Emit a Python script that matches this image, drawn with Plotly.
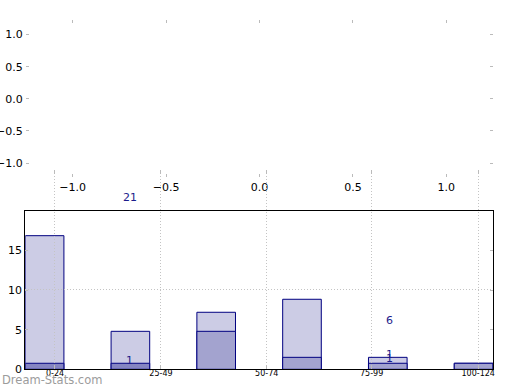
import plotly.graph_objects as go

# ---- data ----
categories = ["0-24", "25-49", "50-74", "75-99", "100-124"]
category_tick_pos = [0.346, 1.581, 2.814, 4.037, 5.279]
bar_left = [0, 1, 2, 3, 4, 5]
total_values = [16.85, 4.79, 7.19, 8.83, 1.51, 0.76]
dark_values = [0.76, 0.76, 4.79, 1.51, 0.76, 0.76]
label_text = ["21", "1", "6", "1", "1"]
label_x = [1.22, 1.21, 4.25, 4.24, 4.24]
label_y = [21.7, 1.17, 6.2, 1.85, 1.3]
top_ticks = [-1.0, -0.5, 0.0, 0.5, 1.0]
top_tick_text = ["\u22121.0", "\u22120.5", "0.0", "0.5", "1.0"]

BAR_W = 0.45
W, H = 520, 390
LIGHT = "#ccccE5"
DARK = "#a3a3cf"
DARKER = "#8585c2"
EDGE = "#000080"
TXT = "#1c1c8c"
TICKC = "#bbbbbb"
GRIDC = "#c4c4c4"
DASH = "1px,2px"


def ydom(top_px, bottom_px):
    return [1 - bottom_px / H, 1 - top_px / H]


def xdom(left_px, right_px):
    return [left_px / W, right_px / W]


bar_x = [b + BAR_W / 2 for b in bar_left]
dark_colors = [DARKER if i < 2 else DARK for i in range(len(dark_values))]

fig = go.Figure()

fig.add_trace(go.Scatter(x=[None], y=[None], xaxis="x", yaxis="y", showlegend=False))
fig.add_trace(go.Bar(x=bar_x, y=total_values, width=BAR_W,
                     marker=dict(color=LIGHT, line=dict(color=EDGE, width=1)),
                     xaxis="x2", yaxis="y2", showlegend=False))
fig.add_trace(go.Bar(x=bar_x, y=dark_values, width=BAR_W,
                     marker=dict(color=dark_colors, line=dict(color=EDGE, width=1)),
                     xaxis="x2", yaxis="y2", showlegend=False))
fig.add_trace(go.Scatter(x=[None], y=[None], xaxis="x3", yaxis="y3", showlegend=False))

# value labels: y3 shares the bar scale (same bottom, same px/unit) but reaches higher
annotations = [dict(text=t, x=x, y=y, xref="x3", yref="y3", showarrow=False,
                    font=dict(color=TXT, size=11, family="DejaVu Sans"))
               for t, x, y in zip(label_text, label_x, label_y)]
annotations.append(dict(text="Dream-Stats.com", xref="paper", yref="paper", x=0, y=0,
                        xanchor="left", yanchor="bottom", showarrow=False, yshift=1,
                        font=dict(family="DejaVu Sans", size=11.5, color="#9c9c9c")))

common = dict(automargin=False, zeroline=False)

fig.update_layout(
    width=W, height=H, margin=dict(l=0, r=0, t=0, b=0, autoexpand=False),
    paper_bgcolor="white", plot_bgcolor="rgba(255,255,255,0)",
    barmode="overlay", showlegend=False,
    font=dict(family="DejaVu Sans", size=11, color="black"),
    xaxis=dict(domain=xdom(26, 493), range=[-1.25, 1.25], anchor="y",
               tickvals=top_ticks, ticktext=top_tick_text,
               ticks="inside", ticklen=3, tickcolor=TICKC, mirror="ticks",
               showline=True, linecolor="rgba(0,0,0,0)", showgrid=False, **common),
    yaxis=dict(domain=ydom(20, 177), range=[-1.218, 1.227], anchor="x",
               tickvals=top_ticks, ticktext=top_tick_text,
               ticks="inside", ticklen=3, tickcolor=TICKC, mirror="ticks",
               showline=True, linecolor="rgba(0,0,0,0)", showgrid=False, **common),
    xaxis2=dict(domain=xdom(25.3, 493.3), range=[0, 5.455], anchor="y2",
                tickvals=category_tick_pos, ticktext=categories, tickfont=dict(size=8),
                ticklabelstandoff=-4,
                ticks="", showline=True, linecolor="black", linewidth=1, mirror=True,
                showgrid=False, **common),
    yaxis2=dict(domain=ydom(210.7, 369.3), range=[0, 20], anchor="x2",
                tickvals=[0, 5, 10, 15], ticks="inside", ticklen=3, tickcolor=TICKC,
                showline=True, linecolor="black", linewidth=1, mirror="ticks",
                showgrid=False, **common),
    xaxis3=dict(domain=xdom(25.3, 493.3), range=[0, 5.455], anchor="y3",
                tickvals=category_tick_pos, showticklabels=False,
                ticks="inside", ticklen=4, tickcolor=TICKC, mirror="ticks",
                showline=True, linecolor="rgba(0,0,0,0)",
                showgrid=True, gridcolor=GRIDC, griddash=DASH, gridwidth=1, **common),
    yaxis3=dict(domain=ydom(170, 369.3), range=[0, 25.13], anchor="x3",
                tickvals=[10], showticklabels=False, ticks="",
                showgrid=True, gridcolor=GRIDC, griddash=DASH, gridwidth=1,
                showline=False, **common),
    annotations=annotations,
)

fig.write_html("out.html", config={"displayModeBar": False},
               post_script="document.body.style.margin='0';")
